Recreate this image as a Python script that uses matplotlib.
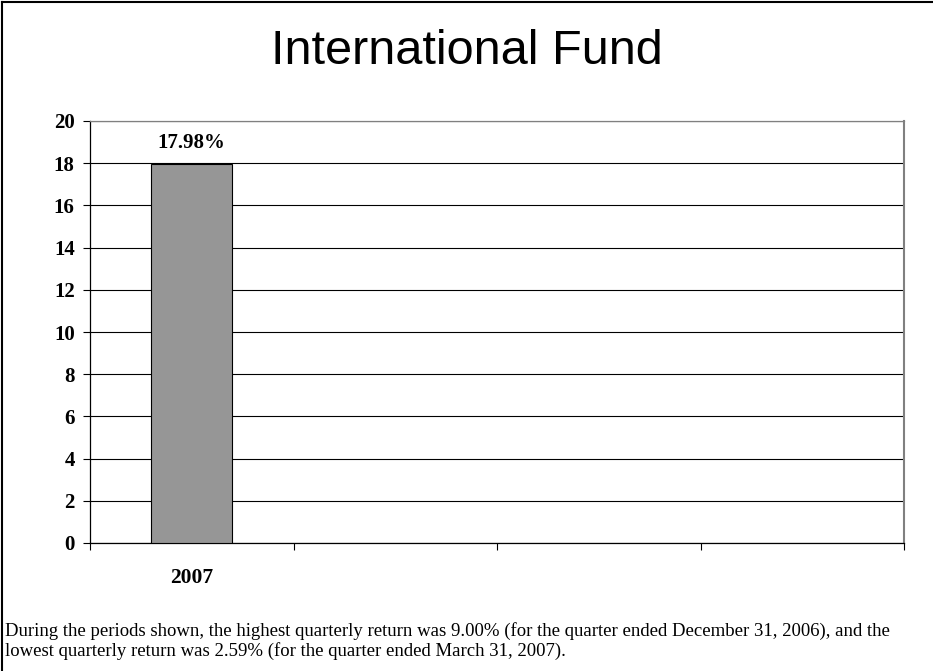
import matplotlib.pyplot as plt
from matplotlib.lines import Line2D
import numpy as np

title = 'International Fund'
categories = ['2007', '', '', '']
returns = [17.98]
bar_labels = ['17.98%']
y_ticks = [0, 2, 4, 6, 8, 10, 12, 14, 16, 18, 20]
note = ('During the periods shown, the highest quarterly return was 9.00% (for the quarter ended December 31, 2006), and the\n'
        'lowest quarterly return was 2.59% (for the quarter ended March 31, 2007).')

serif = ['Liberation Serif', 'DejaVu Serif']
sans = ['Liberation Sans', 'DejaVu Sans']

fig = plt.figure(figsize=(9.33, 6.71), dpi=100)
ax = fig.add_axes([90/933, 1 - 543/671, (904 - 90)/933, (543 - 121)/671])

x = np.arange(len(returns))
bars = ax.bar(x, returns, width=0.4, color='#969696', edgecolor='black', linewidth=0.8, zorder=3)
for b, lab in zip(bars, bar_labels):
    ax.text(b.get_x() + b.get_width()/2, b.get_height() + 1.0, lab, ha='center', va='center',
            fontsize=15, fontweight='bold', family=serif)

ax.set_xlim(-0.5, len(categories) - 0.5)
ax.set_ylim(0, 20)
ax.set_yticks(y_ticks)
ax.set_yticklabels([str(v) for v in y_ticks], fontsize=15, fontweight='bold', family=serif)
ax.set_xticks(np.arange(len(categories)))
ax.set_xticklabels(categories, fontsize=15.5, fontweight='bold', family=serif)
ax.set_xticks(np.arange(len(categories) + 1) - 0.5, minor=True)
ax.tick_params(axis='x', which='major', length=0, pad=18)
ax.tick_params(axis='x', which='minor', length=5, width=0.8, direction='out')
ax.tick_params(axis='y', length=5, width=0.8, direction='out', pad=6)
ax.grid(axis='y', color='black', linewidth=0.8, zorder=0)
ax.set_axisbelow(True)
ax.spines['left'].set_color('black')
ax.spines['bottom'].set_color('black')
ax.spines['top'].set_color('#808080')
ax.spines['right'].set_color('#808080')
for s in ax.spines.values():
    s.set_linewidth(0.9)
ax.spines['right'].set_linewidth(1.5)

fig.text(0.5, 1 - 52/671, title, ha='center', va='center', fontsize=35, family=sans)
fig.text(5/933, 1 - 641/671, note, ha='left', va='center', fontsize=13.5, family=serif, linespacing=1.1)

# outer frame (left and top edges)
fig.add_artist(Line2D([2/933, 2/933], [0, 1 - 2/671], color='black', linewidth=1.5, transform=fig.transFigure))
fig.add_artist(Line2D([2/933, 1], [1 - 2/671, 1 - 2/671], color='black', linewidth=1.5, transform=fig.transFigure))

fig.savefig('out.png', dpi=100)
